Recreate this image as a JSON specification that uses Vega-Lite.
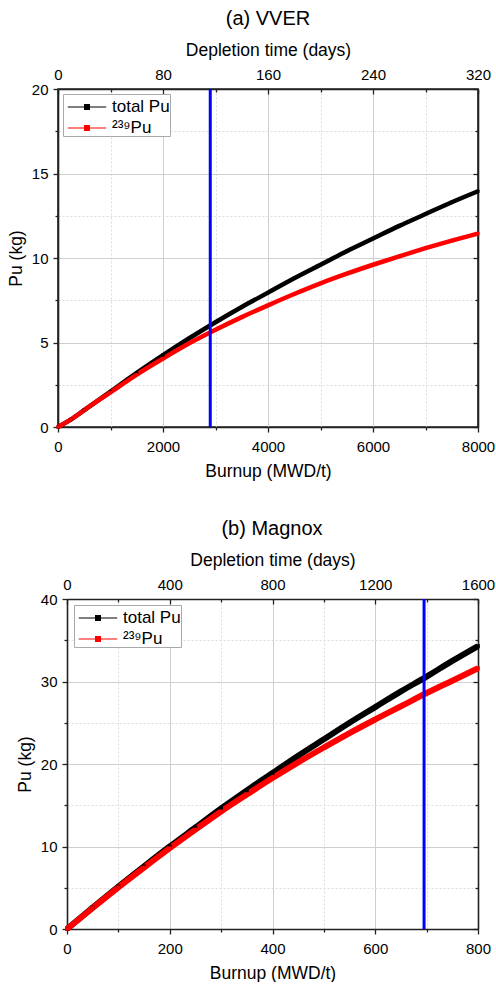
{
  "$schema": "https://vega.github.io/schema/vega-lite/v6.json",
  "background": "white",
  "padding": {"left": 6, "top": 8, "right": 0, "bottom": 0},
  "config": {
    "font": "Liberation Sans",
    "view": {"stroke": "#222", "strokeWidth": 1.6},
    "axis": {"labelFont": "Liberation Sans", "labelFontSize": 15, "labelColor": "black", "titleFont": "Liberation Sans", "titleFontSize": 17.5, "titleFontWeight": "normal", "titleColor": "black", "domainColor": "#222", "domainWidth": 1.6, "tickColor": "#222", "tickWidth": 1.3, "labelFlush": false, "labelOverlap": false, "grid": false},
    "title": {"font": "Liberation Sans", "fontSize": 20, "fontWeight": "normal", "color": "black", "offset": 12},
    "legend": {"labelFont": "Liberation Sans", "labelFontSize": 17, "labelColor": "black"}
  },
  "spacing": 38,
  "resolve": {"scale": {"color": "independent"}, "legend": {"color": "independent"}},
  "vconcat": [
    {
      "title": "(a) VVER",
      "width": 420,
      "height": 338,
      "data": {"values": [
        {"burnup": 0, "pu": 0, "series": "total Pu"},
        {"burnup": 250, "pu": 0.45, "series": "total Pu"},
        {"burnup": 500, "pu": 1.0, "series": "total Pu"},
        {"burnup": 1000, "pu": 2.1, "series": "total Pu"},
        {"burnup": 1500, "pu": 3.2, "series": "total Pu"},
        {"burnup": 2000, "pu": 4.25, "series": "total Pu"},
        {"burnup": 2500, "pu": 5.25, "series": "total Pu"},
        {"burnup": 3000, "pu": 6.2, "series": "total Pu"},
        {"burnup": 3500, "pu": 7.1, "series": "total Pu"},
        {"burnup": 4000, "pu": 7.95, "series": "total Pu"},
        {"burnup": 4500, "pu": 8.8, "series": "total Pu"},
        {"burnup": 5000, "pu": 9.6, "series": "total Pu"},
        {"burnup": 5500, "pu": 10.4, "series": "total Pu"},
        {"burnup": 6000, "pu": 11.15, "series": "total Pu"},
        {"burnup": 6500, "pu": 11.9, "series": "total Pu"},
        {"burnup": 7000, "pu": 12.6, "series": "total Pu"},
        {"burnup": 7500, "pu": 13.3, "series": "total Pu"},
        {"burnup": 8000, "pu": 13.95, "series": "total Pu"},
        {"burnup": 0, "pu": 0, "series": "²³⁹Pu"},
        {"burnup": 250, "pu": 0.45, "series": "²³⁹Pu"},
        {"burnup": 500, "pu": 1.0, "series": "²³⁹Pu"},
        {"burnup": 1000, "pu": 2.05, "series": "²³⁹Pu"},
        {"burnup": 1500, "pu": 3.1, "series": "²³⁹Pu"},
        {"burnup": 2000, "pu": 4.05, "series": "²³⁹Pu"},
        {"burnup": 2500, "pu": 4.95, "series": "²³⁹Pu"},
        {"burnup": 3000, "pu": 5.75, "series": "²³⁹Pu"},
        {"burnup": 3500, "pu": 6.5, "series": "²³⁹Pu"},
        {"burnup": 4000, "pu": 7.2, "series": "²³⁹Pu"},
        {"burnup": 4500, "pu": 7.87, "series": "²³⁹Pu"},
        {"burnup": 5000, "pu": 8.5, "series": "²³⁹Pu"},
        {"burnup": 5500, "pu": 9.07, "series": "²³⁹Pu"},
        {"burnup": 6000, "pu": 9.6, "series": "²³⁹Pu"},
        {"burnup": 6500, "pu": 10.1, "series": "²³⁹Pu"},
        {"burnup": 7000, "pu": 10.58, "series": "²³⁹Pu"},
        {"burnup": 7500, "pu": 11.03, "series": "²³⁹Pu"},
        {"burnup": 8000, "pu": 11.45, "series": "²³⁹Pu"}
      ]},
      "layer": [
        {
          "mark": {"type": "line", "strokeWidth": 4.5, "interpolate": "monotone"},
          "encoding": {
            "x": {"field": "burnup", "type": "quantitative", "scale": {"domain": [0, 8000], "nice": false},
              "axis": {"orient": "bottom", "title": "Burnup (MWD/t)", "values": [0,1000,2000,3000,4000,5000,6000,7000,8000], "format": "d", "labelExpr": "datum.value % 2000 === 0 ? datum.label : ''", "tickSize": {"condition": {"test": "datum.value % 2000 === 0", "value": 5}, "value": 3}, "labelPadding": 7, "titlePadding": 8, "grid": true, "gridColor": {"condition": {"test": "datum.value % 2000 === 0", "value": "#cfcfcf"}, "value": "#dddddd"}, "gridDash": {"condition": {"test": "datum.value % 2000 === 0", "value": []}, "value": [2, 2]}, "gridWidth": 1}},
            "y": {"field": "pu", "type": "quantitative", "scale": {"domain": [0, 20], "nice": false},
              "axis": {"orient": "left", "title": "Pu (kg)", "values": [0,2.5,5,7.5,10,12.5,15,17.5,20], "labelExpr": "datum.value % 5 === 0 ? datum.label : ''", "tickSize": {"condition": {"test": "datum.value % 5 === 0", "value": 5}, "value": 3}, "labelPadding": 5, "titlePadding": 6, "grid": true, "gridColor": {"condition": {"test": "datum.value % 5 === 0", "value": "#cfcfcf"}, "value": "#dddddd"}, "gridDash": {"condition": {"test": "datum.value % 5 === 0", "value": []}, "value": [2, 2]}, "gridWidth": 1}},
            "color": {"field": "series", "type": "nominal", "scale": {"domain": ["total Pu", "²³⁹Pu"], "range": ["#000000", "#ff0000"]},
              "legend": {"title": null, "orient": "top-left", "offset": 5, "padding": 0, "strokeColor": "#aaaaaa", "fillColor": "white", "symbolType": "M-1.6,0H1.6M-0.2,-0.2H0.2V0.2H-0.2Z", "symbolSize": 576, "symbolOffset": 11, "symbolStrokeWidth": 1.2, "labelOffset": 12, "rowPadding": 0, "labelFontSize": 17,
                "encode": {"symbols": {"update": {"fill": {"signal": "datum.value === 'total Pu' ? '#000000' : '#ff0000'"}, "stroke": {"signal": "datum.value === 'total Pu' ? '#c4c4c4' : '#ffaaaa'"}}}}}}
          }
        },
        {
          "mark": {"type": "square", "size": 10, "opacity": 1},
          "encoding": {
            "x": {"field": "burnup", "type": "quantitative", "scale": {"domain": [0, 8000], "nice": false}, "axis": null},
            "y": {"field": "pu", "type": "quantitative", "axis": {"orient": "right", "title": null, "labels": false, "values": [0,2.5,5,7.5,10,12.5,15,17.5,20], "tickSize": {"condition": {"test": "datum.value % 5 === 0", "value": -5}, "value": -3}}},
            "color": {"field": "series", "type": "nominal", "legend": null}
          }
        },
        {
          "data": {"values": [{"burnup": 2900}]},
          "mark": {"type": "rule", "color": "#0000ff", "strokeWidth": 3},
          "encoding": {
            "x": {"field": "burnup", "type": "quantitative", "scale": {"domain": [0, 8000], "nice": false}, "axis": null}
          }
        },
        {
          "data": {"values": [{"days": 0}, {"days": 320}]},
          "mark": {"type": "point", "opacity": 0},
          "encoding": {
            "x": {"field": "days", "type": "quantitative", "scale": {"domain": [0, 320], "nice": false},
              "axis": {"orient": "top", "title": "Depletion time (days)", "values": [0,40,80,120,160,200,240,280,320], "format": "d", "labelExpr": "datum.value % 80 === 0 ? datum.label : ''", "tickSize": {"condition": {"test": "datum.value % 80 === 0", "value": -5}, "value": -3}, "labelPadding": 12, "titlePadding": 6}}
          }
        }
      ],
      "resolve": {"scale": {"x": "independent"}, "axis": {"x": "independent", "y": "independent"}}
    },
    {
      "title": {"text": "(b) Magnox", "dx": 4},
      "width": 420,
      "height": 330,
      "view": {"stroke": null},
      "data": {"values": [
        {"burnup": 0, "pu": 0, "series": "total Pu"},
        {"burnup": 50, "pu": 2.6, "series": "total Pu"},
        {"burnup": 100, "pu": 5.15, "series": "total Pu"},
        {"burnup": 150, "pu": 7.6, "series": "total Pu"},
        {"burnup": 200, "pu": 10.0, "series": "total Pu"},
        {"burnup": 250, "pu": 12.3, "series": "total Pu"},
        {"burnup": 300, "pu": 14.6, "series": "total Pu"},
        {"burnup": 350, "pu": 16.8, "series": "total Pu"},
        {"burnup": 400, "pu": 18.9, "series": "total Pu"},
        {"burnup": 450, "pu": 21.0, "series": "total Pu"},
        {"burnup": 500, "pu": 23.0, "series": "total Pu"},
        {"burnup": 550, "pu": 25.0, "series": "total Pu"},
        {"burnup": 600, "pu": 26.9, "series": "total Pu"},
        {"burnup": 650, "pu": 28.8, "series": "total Pu"},
        {"burnup": 700, "pu": 30.6, "series": "total Pu"},
        {"burnup": 750, "pu": 32.5, "series": "total Pu"},
        {"burnup": 800, "pu": 34.3, "series": "total Pu"},
        {"burnup": 0, "pu": 0, "series": "²³⁹Pu"},
        {"burnup": 50, "pu": 2.55, "series": "²³⁹Pu"},
        {"burnup": 100, "pu": 5.05, "series": "²³⁹Pu"},
        {"burnup": 150, "pu": 7.45, "series": "²³⁹Pu"},
        {"burnup": 200, "pu": 9.8, "series": "²³⁹Pu"},
        {"burnup": 250, "pu": 12.05, "series": "²³⁹Pu"},
        {"burnup": 300, "pu": 14.25, "series": "²³⁹Pu"},
        {"burnup": 350, "pu": 16.3, "series": "²³⁹Pu"},
        {"burnup": 400, "pu": 18.3, "series": "²³⁹Pu"},
        {"burnup": 450, "pu": 20.2, "series": "²³⁹Pu"},
        {"burnup": 500, "pu": 22.0, "series": "²³⁹Pu"},
        {"burnup": 550, "pu": 23.75, "series": "²³⁹Pu"},
        {"burnup": 600, "pu": 25.4, "series": "²³⁹Pu"},
        {"burnup": 650, "pu": 27.0, "series": "²³⁹Pu"},
        {"burnup": 700, "pu": 28.6, "series": "²³⁹Pu"},
        {"burnup": 750, "pu": 30.1, "series": "²³⁹Pu"},
        {"burnup": 800, "pu": 31.6, "series": "²³⁹Pu"}
      ]},
      "layer": [
        {
          "mark": {"type": "line", "strokeWidth": 6, "interpolate": "monotone"},
          "encoding": {
            "x": {"field": "burnup", "type": "quantitative", "scale": {"domain": [0, 800], "nice": false, "range": [9, 420]},
              "axis": {"orient": "bottom", "title": "Burnup (MWD/t)", "values": [0,100,200,300,400,500,600,700,800], "labelExpr": "datum.value % 200 === 0 ? datum.label : ''", "tickSize": {"condition": {"test": "datum.value % 200 === 0", "value": 5}, "value": 3}, "labelPadding": 7, "titlePadding": 8, "grid": true, "gridColor": {"condition": {"test": "datum.value % 200 === 0", "value": "#cfcfcf"}, "value": "#dddddd"}, "gridDash": {"condition": {"test": "datum.value % 200 === 0", "value": []}, "value": [2, 2]}, "gridWidth": 1}},
            "y": {"field": "pu", "type": "quantitative", "scale": {"domain": [0, 40], "nice": false},
              "axis": {"orient": "left", "offset": -9, "title": "Pu (kg)", "values": [0,5,10,15,20,25,30,35,40], "labelExpr": "datum.value % 10 === 0 ? datum.label : ''", "tickSize": {"condition": {"test": "datum.value % 10 === 0", "value": 5}, "value": 3}, "labelPadding": 5, "titlePadding": 6, "grid": true, "gridColor": {"condition": {"test": "datum.value % 10 === 0", "value": "#cfcfcf"}, "value": "#dddddd"}, "gridDash": {"condition": {"test": "datum.value % 10 === 0", "value": []}, "value": [2, 2]}, "gridWidth": 1}},
            "color": {"field": "series", "type": "nominal", "scale": {"domain": ["total Pu", "²³⁹Pu"], "range": ["#000000", "#ff0000"]},
              "legend": {"title": null, "orient": "none", "legendX": 16, "legendY": 6, "padding": 0, "strokeColor": "#aaaaaa", "fillColor": "white", "symbolType": "M-1.6,0H1.6M-0.2,-0.2H0.2V0.2H-0.2Z", "symbolSize": 576, "symbolOffset": 11, "symbolStrokeWidth": 1.2, "labelOffset": 12, "rowPadding": 0, "labelFontSize": 17,
                "encode": {"symbols": {"update": {"fill": {"signal": "datum.value === 'total Pu' ? '#000000' : '#ff0000'"}, "stroke": {"signal": "datum.value === 'total Pu' ? '#c4c4c4' : '#ffaaaa'"}}}}}}
          }
        },
        {
          "mark": {"type": "square", "size": 14, "opacity": 1},
          "encoding": {
            "x": {"field": "burnup", "type": "quantitative", "scale": {"domain": [0, 800], "nice": false, "range": [9, 420]}, "axis": null},
            "y": {"field": "pu", "type": "quantitative", "axis": {"orient": "right", "title": null, "labels": false, "values": [0,5,10,15,20,25,30,35,40], "tickSize": {"condition": {"test": "datum.value % 10 === 0", "value": -5}, "value": -3}}},
            "color": {"field": "series", "type": "nominal", "legend": null}
          }
        },
        {
          "data": {"values": [{"burnup": 695}]},
          "mark": {"type": "rule", "color": "#0000ff", "strokeWidth": 3},
          "encoding": {
            "x": {"field": "burnup", "type": "quantitative", "scale": {"domain": [0, 800], "nice": false, "range": [9, 420]}, "axis": null}
          }
        },
        {
          "data": {"values": [{"days": 0}, {"days": 1600}]},
          "mark": {"type": "point", "opacity": 0},
          "encoding": {
            "x": {"field": "days", "type": "quantitative", "scale": {"domain": [0, 1600], "nice": false, "range": [9, 420]},
              "axis": {"orient": "top", "title": "Depletion time (days)", "values": [0,200,400,600,800,1000,1200,1400,1600], "format": "d", "labelExpr": "datum.value % 400 === 0 ? datum.label : ''", "tickSize": {"condition": {"test": "datum.value % 400 === 0", "value": -5}, "value": -3}, "labelPadding": 12, "titlePadding": 6}}
          }
        }
      ],
      "resolve": {"scale": {"x": "independent"}, "axis": {"x": "independent", "y": "independent"}}
    }
  ]
}
